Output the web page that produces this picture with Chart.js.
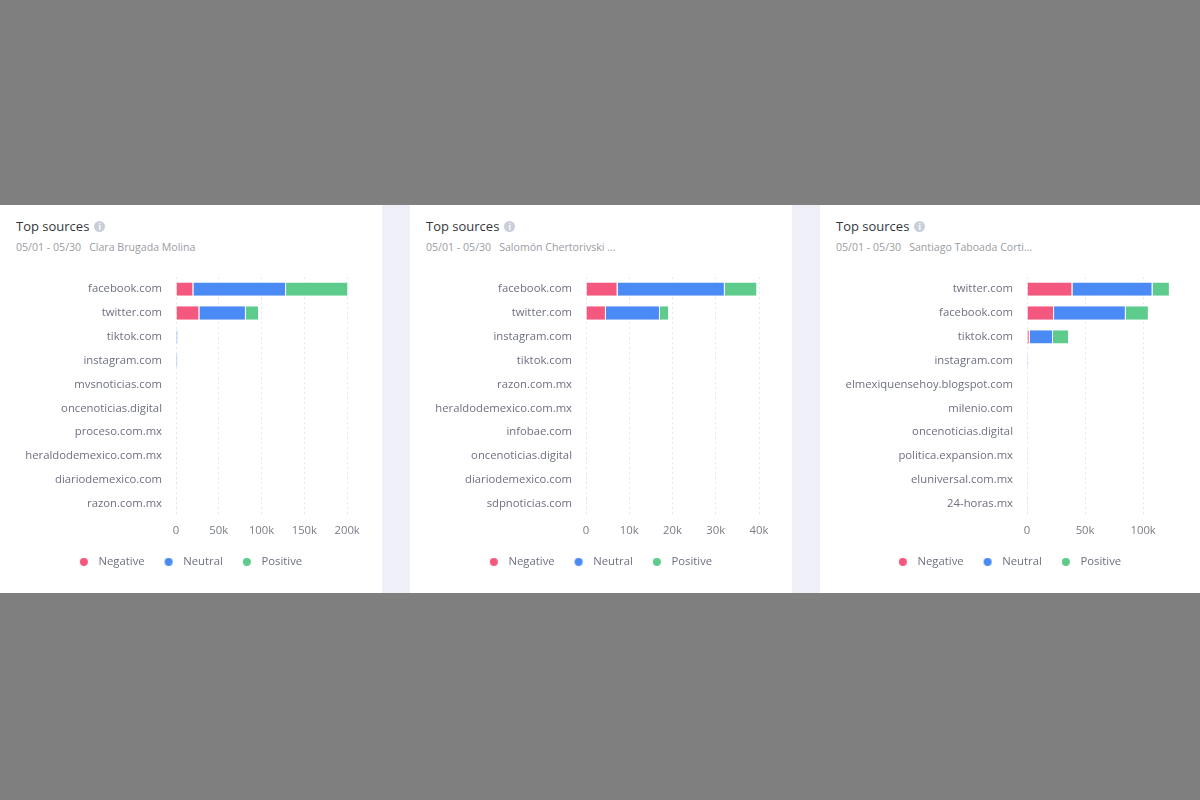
<!DOCTYPE html>
<html>
<head>
<meta charset="utf-8">
<script src="https://cdn.jsdelivr.net/npm/chart.js@4.4.0/dist/chart.umd.min.js"></script>
<style>
  html, body { margin: 0; padding: 0; }
  body { width: 1200px; height: 800px; background: #7f7f7f; position: relative; overflow: hidden; font-family: "Open Sans", sans-serif; }
  .band { position: absolute; left: 0; top: 205px; width: 1200px; height: 388px; background: #eff0f7; }
  .panel { position: absolute; top: 0; height: 388px; background: #fff; }
  .title { position: absolute; left: 16px; top: 12px; font-size: 13px; font-weight: 500; color: #33363d; }
  .info { display: inline-block; width: 11px; height: 11px; border-radius: 50%; background: #c9cfd9; color: #fff;
          font-size: 8px; line-height: 11px; text-align: center; vertical-align: 1px; margin-left: 5px; font-weight: 700; }
  .sub { position: absolute; left: 16px; top: 35px; font-size: 10.6px; color: #9a9ca3; white-space: nowrap; }
  .sub span { margin-left: 8px; }
  canvas { position: absolute; left: 0; top: 60px; }
</style>
</head>
<body>
<div class="band">
  <div class="panel" style="left:0;width:382px">
    <div class="title">Top sources<span class="info">i</span></div>
    <div class="sub">05/01 - 05/30<span>Clara Brugada Molina</span></div>
    <canvas id="chart1"></canvas>
  </div>
  <div class="panel" style="left:410px;width:382px">
    <div class="title">Top sources<span class="info">i</span></div>
    <div class="sub">05/01 - 05/30<span>Salomón Chertorivski ...</span></div>
    <canvas id="chart2"></canvas>
  </div>
  <div class="panel" style="left:820px;width:380px">
    <div class="title">Top sources<span class="info">i</span></div>
    <div class="sub">05/01 - 05/30<span>Santiago Taboada Corti...</span></div>
    <canvas id="chart3"></canvas>
  </div>
</div>
<script>
// series names shared by the three panels
var series = ['Negative', 'Neutral', 'Positive'];

// Clara Brugada Molina
var cats1 = ['facebook.com', 'twitter.com', 'tiktok.com', 'instagram.com', 'mvsnoticias.com',
             'oncenoticias.digital', 'proceso.com.mx', 'heraldodemexico.com.mx', 'diariodemexico.com', 'razon.com.mx'];
var neg1 = [20300, 27300, 0, 0, 0, 0, 0, 0, 0, 0];
var neu1 = [108300, 54400, 2200, 2000, 400, 350, 300, 250, 200, 180];
var pos1 = [72700, 15300, 0, 0, 0, 0, 0, 0, 0, 0];
var ticks1 = [0, 50000, 100000, 150000, 200000];

// Salomón Chertorivski
var cats2 = ['facebook.com', 'twitter.com', 'instagram.com', 'tiktok.com', 'razon.com.mx',
             'heraldodemexico.com.mx', 'infobae.com', 'oncenoticias.digital', 'diariodemexico.com', 'sdpnoticias.com'];
var neg2 = [7300, 4600, 0, 0, 0, 0, 0, 0, 0, 0];
var neu2 = [24800, 12500, 120, 100, 80, 70, 60, 50, 45, 40];
var pos2 = [7500, 2100, 0, 0, 0, 0, 0, 0, 0, 0];
var ticks2 = [0, 10000, 20000, 30000, 40000];

// Santiago Taboada
var cats3 = ['twitter.com', 'facebook.com', 'tiktok.com', 'instagram.com', 'elmexiquensehoy.blogspot.com',
             'milenio.com', 'oncenoticias.digital', 'politica.expansion.mx', 'eluniversal.com.mx', '24-horas.mx'];
var neg3 = [39100, 23300, 2300, 0, 0, 0, 0, 0, 0, 0];
var neu3 = [69000, 61800, 20100, 900, 300, 250, 200, 180, 150, 120];
var pos3 = [14900, 19800, 13800, 0, 0, 0, 0, 0, 0, 0];
var ticks3 = [0, 50000, 100000];

var colores = ['#f5587f', '#4a8af4', '#5ccb8b'];

// small round marker with some room on its left, used as legend point style
function marcador(color) {
    var c = document.createElement('canvas');
    c.width = 22;
    c.height = 8;
    var ctx = c.getContext('2d');
    ctx.fillStyle = color;
    ctx.beginPath();
    ctx.arc(13, 4, 4, 0, Math.PI * 2);
    ctx.fill();
    return c;
}

// keep the legend centred on the whole card, not on the padded box
var centrarLeyenda = {
    id: 'centrarLeyenda',
    beforeDraw: function (chart) {
        var lg = chart.legend;
        var dx = chart.width / 2 - (lg.left + lg.right) / 2 - 4.5;
        lg.left += dx;
        lg.right += dx;
        lg.adjustHitBoxes();
    }
};

function dibujarFuentes(id, ancho, cats, neg, neu, pos, marcas, max, ejeY, derecha) {
    var canvas = document.getElementById(id);
    canvas.width = ancho;
    canvas.height = 328;
    canvas.style.width = ancho + 'px';
    canvas.style.height = '328px';

    var valores = [neg, neu, pos];
    var datasets = [];
    for (var i = 0; i < series.length; i++) {
        datasets.push({
            label: series[i],
            data: valores[i],
            backgroundColor: colores[i],
            borderColor: '#ffffff',
            borderWidth: { left: 0, right: 1, top: 0, bottom: 0 },
            borderSkipped: false,
            barPercentage: 0.56,
            categoryPercentage: 1,
            pointStyle: marcador(colores[i])
        })
    }

    new Chart(canvas, {
        type: 'bar',
        data: { labels: cats, datasets: datasets },
        plugins: [centrarLeyenda],
        options: {
            indexAxis: 'y',
            responsive: false,
            animation: false,
            layout: { padding: { left: 10, right: derecha, top: 12.2, bottom: 15.5 } },
            scales: {
                x: {
                    stacked: true,
                    min: 0,
                    max: max,
                    border: { display: false, dash: [2, 3] },
                    grid: { color: '#e4e7ee', drawTicks: false },
                    afterBuildTicks: function (scale) {
                        scale.ticks = marcas.map(function (v) { return { value: v }; });
                    },
                    ticks: {
                        padding: 8,
                        color: '#7a7d86',
                        font: { family: 'Open Sans', size: 11.3 },
                        callback: function (v) { return v === 0 ? '0' : (v / 1000) + 'k'; }
                    }
                },
                y: {
                    stacked: true,
                    border: { display: false },
                    grid: { display: false, drawTicks: false },
                    afterFit: function (scale) {
                        scale.width = ejeY;
                        scale.paddingTop = 0;
                        scale.paddingBottom = 0;
                    },
                    ticks: {
                        padding: 14,
                        color: '#6d7180',
                        font: { family: 'Open Sans', size: 11.3 }
                    }
                }
            },
            plugins: {
                tooltip: { enabled: false },
                legend: {
                    position: 'bottom',
                    labels: {
                        usePointStyle: true,
                        pointStyleWidth: 22,
                        boxHeight: 8,
                        padding: 11,
                        color: '#6d7180',
                        font: { family: 'Open Sans', size: 11.3 }
                    }
                }
            }
        }
    });
}

dibujarFuentes('chart1', 382, cats1, neg1, neu1, pos1, ticks1, 201000, 166, 34);
dibujarFuentes('chart2', 382, cats2, neg2, neu2, pos2, ticks2, 40000, 166, 33);
dibujarFuentes('chart3', 380, cats3, neg3, neu3, pos3, ticks3, 124000, 197, 29);
</script>
</body>
</html>
